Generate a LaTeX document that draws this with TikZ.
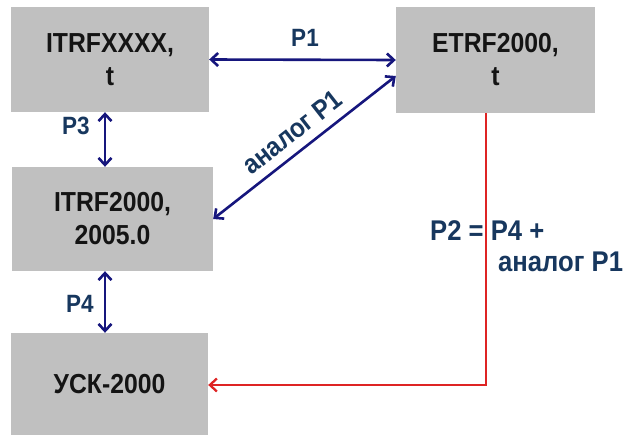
\documentclass[tikz,border=0pt]{standalone}
\usepackage{fontspec}
\setmainfont{Liberation Sans}[FakeStretch=0.9]
\usetikzlibrary{arrows.meta,calc}
\definecolor{boxgray}{RGB}{192,192,192}
\definecolor{arrowblue}{RGB}{22,22,125}
\definecolor{labblue}{RGB}{23,55,94}
\definecolor{redline}{RGB}{222,36,36}
\tikzset{
  frame/.style={draw=none, fill=boxgray, rectangle, align=center, text=black!92,
    font=\bfseries\fontsize{27.5}{33}\selectfont, inner sep=0pt},
  link/.style={draw=arrowblue, line width=2.6pt, {Straight Barb[length=7pt,width=13pt]}-{Straight Barb[length=7pt,width=13pt]}},
  redlink/.style={draw=redline, line width=2.3pt, -{Straight Barb[length=7pt,width=13pt]}},
  lab/.style={text=labblue, font=\bfseries\fontsize{25}{29}\selectfont, inner sep=0pt},
  biglab/.style={text=labblue, font=\bfseries\fontsize{28.5}{32}\selectfont, inner sep=0pt}
}
\begin{document}
\begin{tikzpicture}[x=1pt,y=-1pt]
\useasboundingbox (0,0) rectangle (629,434);
\node[frame, minimum width=198pt, minimum height=105pt] (a) at (110,59.5) {ITRFXXXX,\\t};
\node[frame, minimum width=199pt, minimum height=106pt] (e) at (495.5,60) {ETRF2000,\\t};
\node[frame, minimum width=201pt, minimum height=104pt] (c) at (112.5,219) {ITRF2000,\\2005.0};
\node[frame, minimum width=197pt, minimum height=102pt] (d) at (109.5,384) {УСК-2000};

\coordinate (x3) at (105,0);
\coordinate (xr) at (486,0);
\coordinate (bend) at (486,385);

\draw[link] (a.east) -- (e.west);
\node[lab] (p1) at (305,38) {P1};
\draw[link] (a.south -| x3) -- (c.north -| x3);
\node[lab] (p3) at (76,126) {P3};
\draw[link] (c.east) -- ($(e.west)+(0,16)$) node[pos=0.5, sloped, above=9pt, text=labblue, font=\bfseries\fontsize{27}{30}\selectfont, inner sep=0pt] (an) {аналог P1};
\draw[link] (c.south -| x3) -- (d.north -| x3);
\node[lab] (p4) at (80,304) {P4};
\draw[redlink] (e.south -| xr) -- (bend) -- (d.east |- bend);
\node[biglab, anchor=west] (p2a) at (430,231) {P2 = P4 +};
\node[biglab, anchor=west] (p2b) at (498,262) {аналог P1};
\end{tikzpicture}
\end{document}
